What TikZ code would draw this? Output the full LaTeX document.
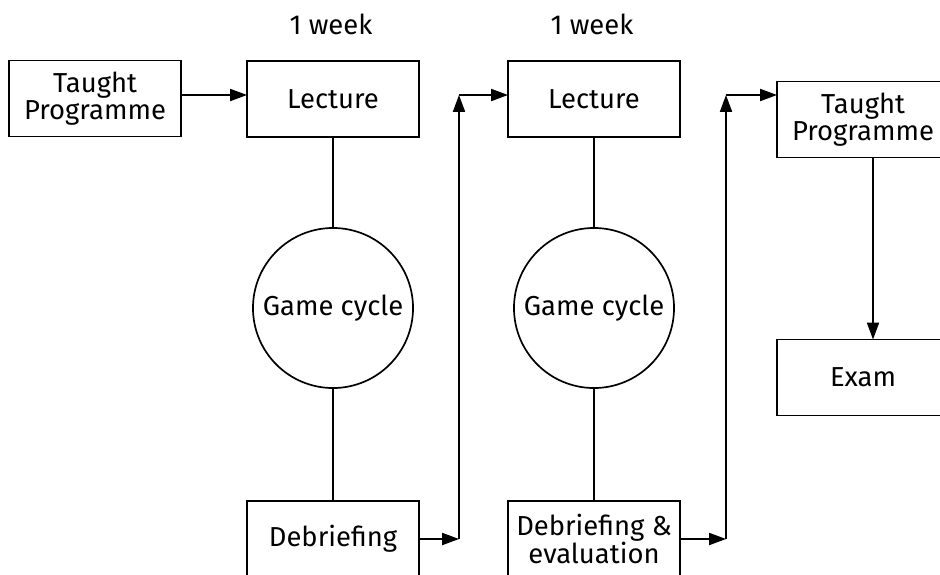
\documentclass[tikz,border=0pt]{standalone}
\usepackage{fontspec}
\setmainfont{Fira Sans}
\usetikzlibrary{arrows.meta}
\tikzset{
  box/.style={draw,line width=1.2pt,minimum width=4.3cm,minimum height=1.9cm,align=center,inner sep=0pt,outer sep=0pt},
  game/.style={draw,circle,line width=1.2pt,minimum size=4cm,inner sep=0pt,outer sep=0pt},
  arr/.style={line width=1.2pt,-{Triangle[length=0.42cm,width=0.3cm]}},
  link/.style={line width=1.2pt}
}
\begin{document}
\begin{tikzpicture}[x=0.025cm,y=-0.025cm,font=\fontsize{19.5}{19.5}\selectfont]
			\useasboundingbox (0,0) rectangle (940,574);
			\node (wk1) at (331,24) {1 week};
			\node (wk2) at (592,24) {1 week};
			\node[box] (tp1) at (95,98.5) {Taught\\Programme};
			\node[box] (lec1) at (333,99) {Lecture};
			\node[game] (game1) at (333,308) {Game cycle};
			\node[box] (deb1) at (333,539) {Debriefing};
			\node[box] (lec2) at (594,99) {Lecture};
			\node[game] (game2) at (594,308) {Game cycle};
			\node[box] (deb2) at (594,539) {Debriefing \&\\evaluation};
			\node[box] (tp2) at (863,119.5) {Taught\\Programme};
			\node[box] (exam) at (863,377.5) {Exam};
			\coordinate (up1) at (459,95);
			\coordinate (up2) at (726,95);
			\draw[arr] (tp1.east |- up1) -- (lec1.west |- up1);
			\draw[link] (lec1) -- (game1) -- (deb1);
			\draw[link] (lec2) -- (game2) -- (deb2);
			% loops back to the next lecture
			\draw[arr] (deb1.east) -- (deb1.east -| up1);
			\draw[arr] (deb1.east -| up1) -- (up1);
			\draw[arr] (up1) -- (up1 -| lec2.west);
			\draw[arr] (deb2.east) -- (deb2.east -| up2);
			\draw[arr] (deb2.east -| up2) -- (up2);
			\draw[arr] (up2) -- (up2 -| tp2.west);
			\draw[arr] ([xshift=0.25cm]tp2.south) -- ([xshift=0.25cm]exam.north);
		\end{tikzpicture}
\end{document}
